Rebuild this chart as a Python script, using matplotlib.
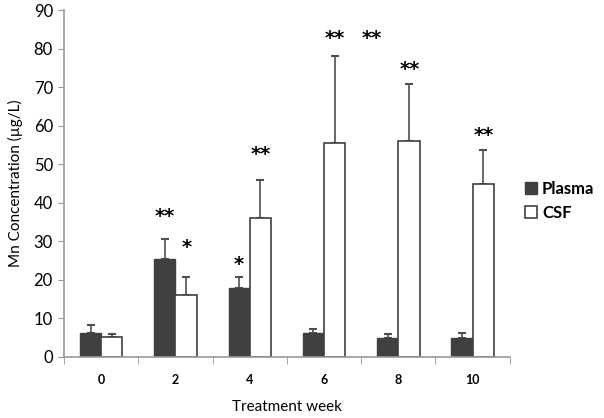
import numpy as np
import matplotlib.pyplot as plt

plt.rcParams["font.family"] = ["Lato", "DejaVu Sans"]

weeks = ["0", "2", "4", "6", "8", "10"]
plasma = [6.3, 25.3, 17.8, 6.2, 5.0, 5.0]
plasma_err = [2.0, 5.4, 3.0, 1.1, 1.0, 1.3]
csf = [5.3, 16.0, 36.0, 55.5, 56.0, 45.0]
csf_err = [0.7, 4.8, 10.0, 22.5, 14.8, 8.8]

# significance marks: (x position in category units, y value, label)
marks_x = [0.855, 1.15, 1.855, 2.15, 3.15, 3.64, 4.15, 5.15]
marks_y = [36.5, 28.5, 24.0, 52.5, 82.5, 82.5, 74.5, 57.5]
marks_txt = ["**", "*", "*", "**", "**", "**", "**", "**"]

fig = plt.figure(figsize=(6.04, 4.18), dpi=100)
ax = fig.add_axes([0.106, 0.146, 0.738, 0.83])

x = np.arange(len(weeks))
w = 0.285
edge = "#404040"

ax.bar(x - w / 2, plasma, w, color="#404040", edgecolor=edge, linewidth=1, label="Plasma", zorder=2)
ax.bar(x + w / 2, csf, w, color="white", edgecolor=edge, linewidth=1.2, label="CSF", zorder=2)

ax.errorbar(x - w / 2, plasma, yerr=[np.zeros(len(x)), plasma_err], fmt="none",
            ecolor="#505050", elinewidth=1.2, capsize=3, capthick=1.5, zorder=1)
ax.errorbar(x + w / 2, csf, yerr=[np.zeros(len(x)), csf_err], fmt="none",
            ecolor="#505050", elinewidth=1.2, capsize=3, capthick=1.5, zorder=1)

for mx, my, t in zip(marks_x, marks_y, marks_txt):
    ax.text(mx, my, t, ha="center", va="center", fontsize=14, fontweight="bold",
            family="DejaVu Sans")

ax.set_xlim(-0.5, 5.5)
ax.set_ylim(0, 90)
ax.set_yticks(range(0, 91, 10))
ax.tick_params(axis="y", labelsize=12, length=4, color="#999999", pad=4)
ax.set_xticks(x)
ax.set_xticklabels(weeks, fontsize=9, fontweight="bold")
ax.set_xticks(np.arange(-0.5, 6.0, 1.0), minor=True)
ax.tick_params(axis="x", which="major", length=0, pad=12)
ax.tick_params(axis="x", which="minor", length=5, color="#999999", direction="out")

for s in ["top", "right"]:
    ax.spines[s].set_visible(False)
for s in ["left", "bottom"]:
    ax.spines[s].set_color("#999999")
    ax.spines[s].set_linewidth(1.2)

ax.set_ylabel("Mn Concentration (µg/L)", fontsize=11, labelpad=8)
ax.set_xlabel("Treatment week", fontsize=11, labelpad=10)

leg = ax.legend(loc="center left", bbox_to_anchor=(1.02, 0.45), frameon=False,
                prop={"weight": "bold", "size": 12}, handlelength=0.7, handleheight=0.7,
                handletextpad=0.3, labelspacing=0.5, borderaxespad=0)

fig.savefig("out.png", dpi=100)
